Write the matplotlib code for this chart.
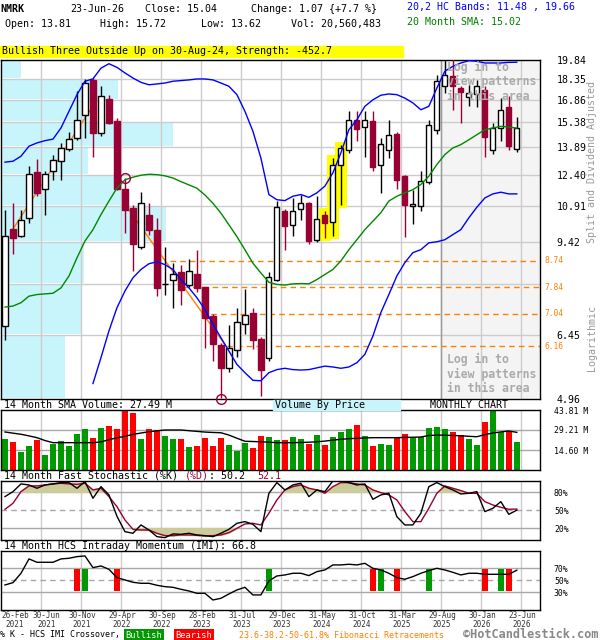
#!/usr/bin/env python3
# NMRK monthly candlestick chart in the hotcandlestick.com layout
# Price panel (log scale) + volume + fast stochastic + IMI, all on one month axis

import numpy as np
import matplotlib
matplotlib.use("Agg")
import matplotlib.pyplot as plt
from matplotlib.patches import Rectangle
from matplotlib.ticker import NullLocator

plt.rcParams['font.family'] = ['DejaVu Sans Mono']

nan = np.nan

# month bars, 26-Feb-2021 .. 23-Jun-2026 (split and dividend adjusted)
opens = [6.69, 9.95, 9.66, 10.41, 12.56, 11.73, 12.60, 13.15, 13.81, 14.42,
         15.87, 18.29, 14.73, 16.91, 15.49, 11.71, 10.84, 9.25, 10.54, 9.89,
         7.94, 8.06, 8.35, 7.91, 8.28, 7.84, 6.96, 6.19, 5.63, 6.06,
         6.76, 7.07, 6.35, 5.86, 8.09, 10.70, 10.10, 10.81, 11.05, 9.52,
         10.55, 10.23, 12.94, 13.73, 15.51, 15.07, 15.45, 12.94, 13.73, 14.67,
         12.36, 10.92, 10.92, 12.04, 14.92, 17.82, 18.56, 17.69, 17.03, 17.29,
         17.53, 13.75, 15.03, 16.35, 13.81]
highs = [10.74, 11.07, 10.74, 12.89, 13.25, 12.63, 13.48, 14.14, 14.79, 17.46,
         18.37, 18.43, 17.82, 17.18, 15.65, 12.25, 10.98, 11.58, 11.04, 10.41,
         9.23, 8.67, 8.57, 8.80, 9.14, 7.85, 7.04, 6.25, 6.71, 7.21,
         7.79, 7.19, 6.40, 8.34, 11.17, 10.79, 11.29, 11.45, 11.11, 11.40,
         10.70, 13.29, 14.01, 16.13, 16.09, 16.09, 16.09, 14.42, 15.53, 14.79,
         12.42, 11.68, 12.60, 15.54, 18.68, 20.20, 19.90, 17.83, 17.93, 18.29,
         17.82, 15.34, 16.98, 17.10, 15.72]
lows = [6.31, 8.99, 9.63, 10.20, 11.37, 10.55, 12.16, 12.16, 13.67, 14.32,
        14.42, 13.33, 14.56, 15.29, 11.67, 9.79, 8.38, 9.17, 9.72, 7.57,
        7.61, 7.19, 7.29, 7.85, 7.70, 6.12, 5.79, 4.99, 5.54, 5.90,
        6.47, 6.08, 5.03, 5.79, 8.04, 9.14, 9.66, 10.30, 9.37, 9.44,
        9.59, 9.66, 10.99, 13.57, 14.24, 13.33, 12.60, 11.50, 13.29, 11.73,
        9.62, 10.17, 10.70, 11.96, 14.67, 17.32, 16.19, 15.32, 16.42, 16.35,
        13.35, 13.52, 14.24, 13.75, 13.62]
closes = [9.66, 9.59, 10.33, 12.46, 11.53, 12.46, 13.18, 13.85, 14.36, 15.53,
          18.06, 14.73, 17.10, 15.34, 11.73, 10.73, 9.37, 11.05, 9.92, 7.80,
          7.96, 8.28, 7.76, 8.38, 7.82, 6.92, 6.21, 5.63, 6.12, 6.80,
          7.00, 6.33, 5.58, 8.17, 10.87, 10.06, 10.70, 11.04, 9.47, 10.38,
          10.20, 12.94, 13.85, 15.53, 14.98, 15.53, 12.80, 14.10, 14.62, 12.16,
          10.99, 11.02, 12.12, 15.20, 18.19, 18.64, 17.82, 17.39, 17.34, 17.82,
          14.48, 15.03, 16.16, 13.97, 15.04]

# volume, millions of shares
volume = [22.86, 20.45, 13.14, 17.52, 22.15, 10.95, 18.99, 21.18, 17.52, 26.29,
          29.94, 23.37, 30.67, 32.13, 29.94, 43.30, 41.62, 22.64, 29.94, 29.21,
          24.83, 22.64, 22.86, 16.79, 17.52, 23.37, 17.52, 23.37, 18.26, 13.87,
          19.72, 16.06, 24.83, 24.10, 21.91, 21.91, 24.30, 22.86, 18.99, 25.56,
          18.26, 24.10, 27.75, 29.94, 32.86, 24.83, 17.52, 18.99, 18.26, 23.12,
          26.29, 23.37, 24.10, 30.67, 31.40, 29.94, 27.75, 25.56, 22.86, 18.26,
          35.27, 43.81, 27.75, 28.48, 20.56]
vol_sma = [27.75, 26.9, 26.1, 24.9, 23.6, 21.5, 19.96, 19.96, 19.96, 19.96,
           19.96, 19.96, 20.5, 22.1, 23.5, 24.6, 26.0, 27.0, 27.9, 28.6,
           29.2, 29.2, 29.2, 28.7, 28.2, 27.7, 27.4, 27.2, 25.5, 23.2,
           21.0, 20.8, 20.6, 20.3, 19.96, 19.96, 19.96, 20.1, 20.3, 20.6,
           21.1, 21.8, 22.4, 22.9, 23.1, 23.4, 23.6, 23.6, 23.6, 23.6,
           23.8, 23.9, 24.1, 25.2, 25.5, 25.4, 25.2, 25.0, 24.6, 24.3,
           25.8, 27.0, 27.8, 28.5, 27.49]

# 20 month SMA and 20,2 HC bands
sma20 = [7.23, 7.26, 7.36, 7.56, 7.61, 7.63, 7.65, 7.82, 8.21, 8.84,
         9.47, 9.92, 10.55, 11.15, 11.76, 12.16, 12.29, 12.39, 12.44, 12.42,
         12.36, 12.25, 12.07, 11.91, 11.75, 11.43, 11.05, 10.61, 10.12, 9.64,
         9.14, 8.65, 8.31, 8.00, 7.93, 7.91, 7.95, 7.96, 7.95, 8.09,
         8.26, 8.43, 8.73, 9.14, 9.52, 9.92, 10.27, 10.63, 11.15, 11.37,
         11.53, 11.68, 11.93, 12.34, 12.94, 13.48, 13.85, 14.04, 14.32, 14.62,
         14.92, 15.03, 15.13, 15.09, 15.02]
band_upper = [13.07, 13.12, 13.39, 13.95, 14.14, 14.27, 14.36, 15.03, 16.09, 17.22,
              18.19, 18.37, 19.19, 19.54, 19.25, 18.82, 18.43, 18.11, 17.93, 17.99,
              18.06, 18.19, 18.24, 18.29, 18.36, 18.36, 18.29, 18.06, 17.82, 17.22,
              16.09, 14.83, 13.29, 11.45, 11.21, 11.17, 11.37, 11.45, 11.32, 11.53,
              11.85, 12.51, 13.57, 14.92, 15.54, 16.42, 16.86, 17.18, 17.27, 17.22,
              16.98, 16.65, 16.19, 16.42, 17.69, 18.95, 19.33, 19.60, 19.78, 19.74,
              19.60, 19.60, 19.60, 19.65, 19.66]
band_lower = [nan, nan, nan, nan, nan, nan, nan, nan, nan, nan,
              nan, 5.29, 5.88, 6.56, 7.21, 7.72, 8.15, 8.43, 8.63, 8.70,
              8.60, 8.43, 8.09, 7.82, 7.51, 7.16, 6.74, 6.38, 6.04, 5.72,
              5.53, 5.36, 5.35, 5.53, 5.60, 5.63, 5.60, 5.59, 5.60, 5.64,
              5.68, 5.66, 5.63, 5.66, 5.76, 5.96, 6.42, 7.07, 7.61, 8.21,
              8.67, 9.03, 9.14, 9.40, 9.44, 9.52, 9.72, 9.92, 10.41, 10.87,
              11.29, 11.48, 11.56, 11.48, 11.48]

# 14 month fast stochastic
stoch_k = [72.8, 81.1, 93.9, 92.2, 86.7, 92.2, 93.9, 96.1, 96.1, 86.7,
           97.8, 70.0, 89.4, 75.6, 40.0, 14.4, 11.7, 25.6, 17.2, 6.1,
           4.4, 10.6, 10.0, 11.7, 8.9, 7.8, 6.1, 11.7, 18.3, 28.3,
           31.1, 26.7, 14.4, 78.3, 96.1, 83.9, 92.2, 95.0, 72.8, 83.9,
           81.1, 98.9, 98.9, 96.1, 92.2, 93.9, 68.3, 75.6, 78.3, 39.4,
           25.6, 25.6, 45.0, 89.4, 96.1, 89.4, 83.9, 77.2, 78.3, 81.1,
           47.8, 53.3, 64.4, 43.3, 50.2]
stoch_d = [51.7, 61.7, 81.1, 90.6, 90.6, 92.2, 93.9, 95.0, 93.9, 93.3,
           95.0, 83.9, 86.7, 72.8, 56.0, 33.9, 18.3, 17.2, 17.2, 11.7,
           7.8, 7.8, 8.9, 8.9, 8.3, 7.2, 7.8, 8.9, 12.8, 20.0,
           27.2, 28.3, 25.6, 45.0, 67.2, 83.9, 89.4, 92.2, 86.7, 83.9,
           78.3, 89.4, 96.1, 96.1, 93.9, 92.2, 83.9, 79.4, 75.6, 67.2,
           47.8, 31.1, 31.1, 53.3, 78.3, 90.6, 86.7, 82.8, 78.3, 78.3,
           64.4, 58.9, 55.0, 51.7, 52.1]

# 14 month HCS intraday momentum
imi = [42.2, 46.1, 61.7, 85.6, 80.0, 80.0, 80.0, 85.6, 86.7, 89.4,
       90.6, 71.1, 73.9, 68.3, 54.4, 50.6, 46.7, 45.0, 45.0, 41.7,
       39.4, 38.3, 35.0, 32.2, 28.3, 28.3, 17.2, 20.0, 27.2, 33.9,
       38.3, 25.6, 25.6, 48.9, 57.2, 58.9, 61.7, 61.7, 57.8, 64.4,
       67.2, 75.6, 75.6, 76.7, 75.6, 78.3, 70.0, 67.2, 61.7, 54.4,
       51.7, 56.1, 61.7, 66.1, 70.0, 67.2, 63.3, 58.9, 61.7, 61.7,
       60.0, 60.0, 60.0, 60.0, 66.8]
bull_cross = [10, 33, 47, 53, 62]
bear_cross = [9, 14, 46, 49, 60, 63]

# price grid (linear steps on a log axis) and volume by price per band, millions
price_levels = [4.96, 6.45, 7.94, 9.42, 10.91, 12.40, 13.89, 15.38, 16.86, 18.35, 19.84]
vbp_volume = [96, 120, 125, 248, 180, 131, 258, 132, 176, 30]

# fibonacci retracements and the bar where each line starts
fib_levels = [8.74, 7.84, 7.04, 6.16]
fib_start = [20.6, 22.3, 24.5, 26.5]

# trend lines (bar, price) and pivot circles
trend_up = ([1, 11], [9.95, 16.46])
trend_down = ([15, 27.5], [11.0, 6.2])
pivot_high = 15
pivot_low = 27

pattern_bars = [40, 41, 42]    # bullish three outside up
logged_from = 54.5             # patterns hidden right of this bar edge

tick_bars = [-1, 4, 9, 14, 19, 24, 29, 34, 39, 44, 49, 54, 59, 64]
tick_dates = ['26-Feb', '30-Jun', '30-Nov', '29-Apr', '30-Sep', '28-Feb', '31-Jul',
              '29-Dec', '31-May', '31-Oct', '31-Mar', '29-Aug', '30-Jan', '23-Jun']
tick_years = ['2021', '2021', '2021', '2022', '2022', '2023', '2023',
              '2023', '2024', '2024', '2025', '2025', '2026', '2026']

MAROON = '#990033'
GRID = '#cccccc'
HGRID = '#a8a8a8'
ORANGE = '#ff8000'
MONO_ADV = 0.602   # DejaVu Sans Mono advance width, em

W, H = 600.0, 640.0
fig = plt.figure(figsize=(W / 100, H / 100), dpi=100)


def box(x0, y0, x1, y1):
    "axes placed in pixel coords, y counted from the top"
    return fig.add_axes([x0 / W, 1 - y1 / H, (x1 - x0) / W, (y1 - y0) / H])


def label(x, y, s, **kw):
    "figure text placed in pixel coords, y counted from the top"
    kw.setdefault('va', 'center')
    kw.setdefault('fontsize', 7.2)
    return fig.text(x / W, 1 - y / H, s, **kw)


def frame(a):
    for sp in a.spines.values():
        sp.set_linewidth(1)
        sp.set_color('black')
    a.set_xticks([])


n = len(closes)
idx = np.arange(n)
o, h, l, c = (np.array(v) for v in (opens, highs, lows, closes))
up = c >= o
XMAX = 66.9
grid_x = [b + 0.5 for b in tick_bars[1:]]

# ---------------- price panel ----------------
ax = box(1, 60, 540, 399.3)
ax.set_yscale('log')
ax.set_xlim(-0.5, XMAX)
ax.set_ylim(price_levels[0], price_levels[-1])
frame(ax)

ax.axvspan(logged_from, XMAX, color='#f4f4f4', zorder=0.1)
top = max(vbp_volume)
for k, v in enumerate(vbp_volume):
    lo, hi = price_levels[k] * 1.004, price_levels[k + 1] / 1.004
    ax.barh(lo, v / top * 21.5, height=hi - lo, left=-0.5, align='edge',
            color='#c8f4fc', zorder=0.5)
for p in price_levels[1:-1]:
    ax.axhline(p, color=GRID, lw=1, zorder=1)
for g in grid_x:
    ax.axvline(g, color=GRID, lw=1, zorder=1)
ax.axvline(logged_from, color='#999999', lw=1, zorder=1.2)

for f, s in zip(fib_levels, fib_start):
    ax.hlines(f, s, XMAX, colors=ORANGE, linestyles=(0, (4, 3)), lw=1, zorder=1.5)
    ax.text(1.008, f, f'{f:.2f}', transform=ax.get_yaxis_transform(), color=ORANGE,
            fontsize=5.7, va='center', ha='left')

for i in pattern_bars:
    ax.bar(i, h[i] * 1.012 - l[i] * 0.988, bottom=l[i] * 0.988, width=1.45,
           color='#ffff00', zorder=2)

ax.plot(*trend_up, color=ORANGE, lw=1, zorder=2.5)
ax.plot(*trend_down, color=ORANGE, lw=1, zorder=2.5)

ax.vlines(idx, l, h, colors=np.where(up, 'black', MAROON), lw=1, zorder=3)
ax.bar(idx, np.abs(c - o), bottom=np.minimum(o, c), width=0.65,
       color=np.where(up, 'white', MAROON), edgecolor=np.where(up, 'black', MAROON),
       lw=1, zorder=4)

ax.plot(idx, band_upper, color='#0000ff', lw=1, zorder=5)
ax.plot(idx, band_lower, color='#0000ff', lw=1, zorder=5)
ax.plot(idx, sma20, color='#008800', lw=1, zorder=5)

ax.plot(pivot_high, h[pivot_high], 'o', mfc='none', mec=MAROON, ms=7, mew=1, zorder=6)
ax.plot(pivot_low, price_levels[0], 'o', mfc='none', mec=MAROON, ms=7, mew=1,
        zorder=6, clip_on=False)

ax.yaxis.tick_right()
ax.yaxis.set_minor_locator(NullLocator())
ax.set_yticks(price_levels)
ax.set_yticklabels(['' if abs(p - 7.94) < 0.01 else f'{p:.2f}' for p in price_levels])
ax.tick_params(axis='y', length=0, pad=12, labelsize=7.1)

# ---------------- volume panel ----------------
axv = box(1, 410, 540, 470)
axv.set_xlim(-0.5, XMAX)
axv.set_ylim(0, 43.81)
frame(axv)
for g in grid_x:
    axv.axvline(g, color=GRID, lw=1, zorder=1)
for v in (14.60, 29.21):
    axv.axhline(v, color=HGRID, lw=1, zorder=1)
axv.bar(idx, volume, width=0.7, color=np.where(up, '#009900', '#ff0000'), zorder=2)
axv.plot(idx, vol_sma, color='black', lw=1, zorder=3)
axv.yaxis.tick_right()
axv.set_yticks([14.60, 29.21, 43.81])
axv.set_yticklabels(['14.60 M', '29.21 M', '43.81 M'])
axv.tick_params(axis='y', length=0, pad=10, labelsize=5.9)

# ---------------- stochastic panel ----------------
axs = box(1, 480.7, 540, 540)
axs.set_xlim(-0.5, XMAX)
axs.set_ylim(0.5, 99.3)
frame(axs)
for g in grid_x:
    axs.axvline(g, color=GRID, lw=1, zorder=1)
axs.axhline(80, color=HGRID, lw=1, zorder=1)
axs.axhline(20, color=HGRID, lw=1, zorder=1)
axs.axhline(50, color=HGRID, lw=1, ls=(0, (4, 3)), zorder=1)
d = np.array(stoch_d)
axs.fill_between(idx, d, 80, where=d >= 80, interpolate=True, color='#cccc99', zorder=1.5)
axs.fill_between(idx, d, 20, where=d <= 20, interpolate=True, color='#cccc99', zorder=1.5)
axs.plot(idx, stoch_d, color=MAROON, lw=1, zorder=2)
axs.plot(idx, stoch_k, color='black', lw=1, zorder=3)
axs.yaxis.tick_right()
axs.set_yticks([20, 50, 80])
axs.set_yticklabels(['20%', '50%', '80%'])
axs.tick_params(axis='y', length=0, pad=10, labelsize=5.9)

# ---------------- IMI panel ----------------
axi = box(1, 550.7, 540, 610)
axi.set_xlim(-0.5, XMAX)
axi.set_ylim(0.5, 99.3)
frame(axi)
for g in grid_x:
    axi.axvline(g, color=GRID, lw=1, zorder=1)
axi.axhline(70, color=HGRID, lw=1, zorder=1)
axi.axhline(30, color=HGRID, lw=1, zorder=1)
axi.axhline(50, color=HGRID, lw=1, ls=(0, (4, 3)), zorder=1)
axi.bar(bull_cross, 36, bottom=32, width=0.75, color='#009900', zorder=2)
axi.bar(bear_cross, 36, bottom=32, width=0.75, color='#ff0000', zorder=2)
axi.plot(idx, imi, color='black', lw=1, zorder=3)
axi.yaxis.tick_right()
axi.set_yticks([30, 50, 70])
axi.set_yticklabels(['30%', '50%', '70%'])
axi.tick_params(axis='y', length=0, pad=10, labelsize=5.9)

# date labels under the IMI panel: two short rows that must not collide
xt = axi.get_xaxis_transform()
for k, (b, dt, yr) in enumerate(zip(tick_bars, tick_dates, tick_years)):
    gx = b + 0.5
    kw = dict(transform=xt, fontsize=5.5, va='center', color='#333333')
    if k == 0:
        axi.text(-0.5, -0.085, dt, ha='left', **kw)
        axi.text(0.1, -0.245, yr, ha='left', **kw)
        continue
    gx += 0.7 if k == 1 else 0.15
    axi.text(gx, -0.085, dt, ha='center', **kw)
    axi.text(gx, -0.245, yr, ha='center', **kw)

# ---------------- header and captions ----------------
label(0, 9, 'NMRK', fontweight='bold')
label(70, 9, '23-Jun-26')
label(145, 9, 'Close: 15.04')
label(251, 9, 'Change: 1.07 {+7.7 %}')
label(4.6, 24, 'Open: 13.81')
label(100, 24, 'High: 15.72')
label(201, 24, 'Low: 13.62')
label(291, 24, 'Vol: 20,560,483')
label(407, 7, '20,2 HC Bands: 11.48 , 19.66', color='#0000ff')
label(407, 22, '20 Month SMA: 15.02', color='#008000')

fig.patches.append(Rectangle((0, 1 - 57.3 / H), 403 / W, 11.6 / H,
                             transform=fig.transFigure, color='#ffff00', zorder=0))
label(2, 51.5, 'Bullish Three Outside Up on 30-Aug-24, Strength: -452.7')

for yy, s in zip((67.3, 81.7, 96.7, 359, 374, 389),
                 ('Log in to', 'view patterns', 'in this area') * 2):
    label(446.7, yy, s, fontsize=8.3, fontweight='bold', color='#aaaaaa')

label(592, 162, 'Split and Dividend Adjusted', rotation=90, ha='center',
      fontsize=7.2, color='#999999')
label(592, 338, 'Logarithmic', rotation=90, ha='center', fontsize=7.2, color='#999999')

label(4, 405.5, '14 Month SMA Volume: 27.49 M')
fig.patches.append(Rectangle((273 / W, 1 - 410 / H), 127 / W, 10 / H,
                             transform=fig.transFigure, color='#c8f4fc', zorder=0))
label(275, 405.5, 'Volume By Price')
label(430, 405.5, 'MONTHLY CHART')

# stochastic title: black and maroon pieces laid out on the monospace grid
adv = MONO_ADV * 7.2 * 100 / 72
pieces = [('14 Month Fast Stochastic (%K)', 'black', 0), ('(%D)', MAROON, 30),
          (': 50.2', 'black', 34), ('52.1', MAROON, 42)]
for s, col, j in pieces:
    label(4 + j * adv, 476, s, color=col)
label(4, 545.7, '14 Month HCS Intraday Momentum (IMI): 66.8')

label(0, 635, '% K - HCS IMI Crossover,', fontsize=6)
label(144, 635, 'Bullish', fontsize=6.2, color='white', ha='center',
      bbox=dict(facecolor='#009900', edgecolor='none', pad=1.2))
label(194, 635, 'Bearish', fontsize=6.2, color='white', ha='center',
      bbox=dict(facecolor='#ff0000', edgecolor='none', pad=1.2))
label(239, 635, '23.6-38.2-50-61.8% Fibonacci Retracements', fontsize=6, color=ORANGE)
label(463, 634, '\u00a9HotCandlestick.com', fontsize=8.6, fontweight='bold', color='#888888')

fig.savefig('out.png', dpi=100)
